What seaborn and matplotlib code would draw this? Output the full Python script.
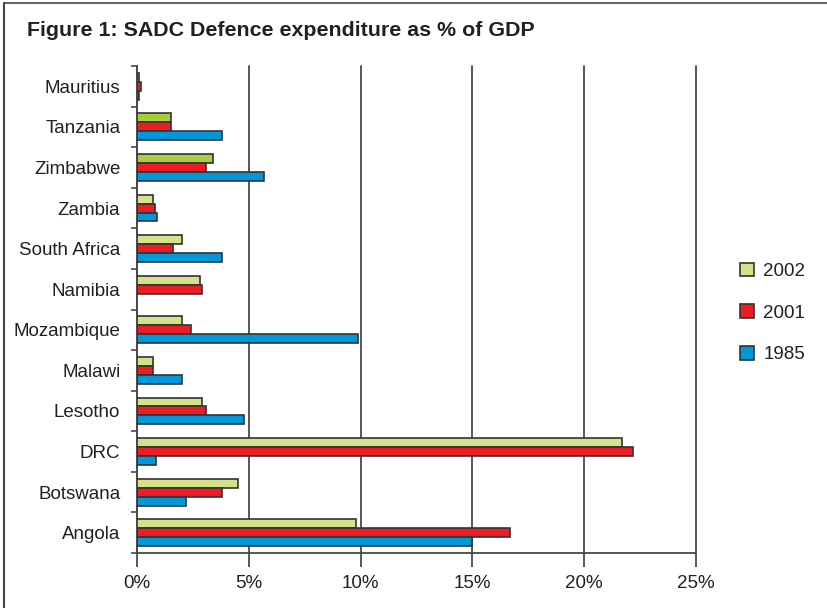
import matplotlib
matplotlib.use("Agg")
import matplotlib.pyplot as plt
from matplotlib.patches import Patch
from matplotlib.lines import Line2D
from matplotlib.ticker import FixedLocator, PercentFormatter
import seaborn as sns
import pandas as pd

countries = ["Mauritius", "Tanzania", "Zimbabwe", "Zambia", "South Africa", "Namibia",
             "Mozambique", "Malawi", "Lesotho", "DRC", "Botswana", "Angola"]
years = ["2002", "2001", "1985"]
v2002 = [0.1, 1.5, 3.4, 0.7, 2.0, 2.8, 2.0, 0.7, 2.9, 21.7, 4.5, 9.8]
v2001 = [0.2, 1.5, 3.1, 0.8, 1.6, 2.9, 2.4, 0.7, 3.1, 22.2, 3.8, 16.7]
v1985 = [0.1, 3.8, 5.7, 0.9, 3.8, 0.0, 9.9, 2.0, 4.8, 0.85, 2.2, 15.0]
xticks = [0, 5, 10, 15, 20, 25]

colors = {"2002": "#d4e38a", "2001": "#ee1d25", "1985": "#0098da"}
bright_green = "#a9cd3b"

rows = []
for c, a, b, d in zip(countries, v2002, v2001, v1985):
    rows.append((c, "2002", a))
    rows.append((c, "2001", b))
    rows.append((c, "1985", d))
df = pd.DataFrame(rows, columns=["country", "year", "pct"])

sns.set_style("white")
plt.rcParams["font.family"] = ["Liberation Sans", "DejaVu Sans"]
plt.rcParams["text.color"] = "#231f20"

fig = plt.figure(figsize=(8.28, 6.08), dpi=100)
ax = fig.add_axes([137 / 828, 55 / 608, (696 - 137) / 828, (553 - 66) / 608])

sns.barplot(data=df, y="country", x="pct", hue="year", order=countries,
            hue_order=years, palette=colors, orient="h", width=0.66, saturation=1,
            edgecolor="#333333", linewidth=1.2, legend=False, ax=ax, zorder=3)

# first three groups have a brighter green in the source
for i, p in enumerate(ax.containers[0]):
    if i < 3:
        p.set_facecolor(bright_green)
for p in ax.patches:
    if p.get_width() == 0:
        p.set_visible(False)

ax.set_xlim(0, 25)
ax.set_ylim(len(countries) - 0.5, -0.5)
ax.set_xticks(xticks)
ax.xaxis.set_major_formatter(PercentFormatter(decimals=0))
ax.set_xlabel("")
ax.set_ylabel("")
ax.xaxis.grid(True, color="#4a4a4a", linewidth=1.3, zorder=0)
for gl in ax.get_xgridlines():
    gl.set_clip_on(False)
ax.yaxis.grid(False)
ax.set_axisbelow(True)

ax.set_yticks(range(len(countries)))
ax.set_yticklabels(countries)
ax.yaxis.set_minor_locator(FixedLocator([i - 0.5 for i in range(len(countries) + 1)]))
ax.tick_params(axis="y", which="major", length=0, pad=12, labelsize=13.5, labelcolor="#231f20")
ax.tick_params(axis="y", which="minor", length=4, width=1.2, color="#4a4a4a", direction="out", left=True)
ax.tick_params(axis="x", which="major", length=10, width=1.3, color="#4a4a4a", direction="out",
               bottom=True, pad=6, labelsize=13.5, labelcolor="#231f20")

for s in ["top", "right"]:
    ax.spines[s].set_visible(False)
for s in ["left", "bottom"]:
    ax.spines[s].set_color("#4a4a4a")
    ax.spines[s].set_linewidth(1.3)

handles = [Patch(facecolor=colors[y], edgecolor="#333333", linewidth=1.2) for y in years]
fig.legend(handles, years, loc="center left", bbox_to_anchor=(740 / 828, 1 - 313 / 608),
           frameon=False, fontsize=13.5, handlelength=0.75, handleheight=0.75,
           handletextpad=0.5, labelspacing=1.3, borderpad=0, borderaxespad=0)

fig.text(27 / 828, 1 - 30 / 608, "Figure 1: SADC Defence expenditure as % of GDP",
         fontsize=15.4, fontweight="bold", ha="left", va="center", color="#231f20")

fig.add_artist(Line2D([4 / 828, 1], [1 - 3 / 608, 1 - 3 / 608], transform=fig.transFigure,
                      color="#666666", linewidth=1.5))
fig.add_artist(Line2D([4 / 828, 4 / 828], [0, 1 - 3 / 608], transform=fig.transFigure,
                      color="#444444", linewidth=1.5))

fig.savefig("out.png", dpi=100)
